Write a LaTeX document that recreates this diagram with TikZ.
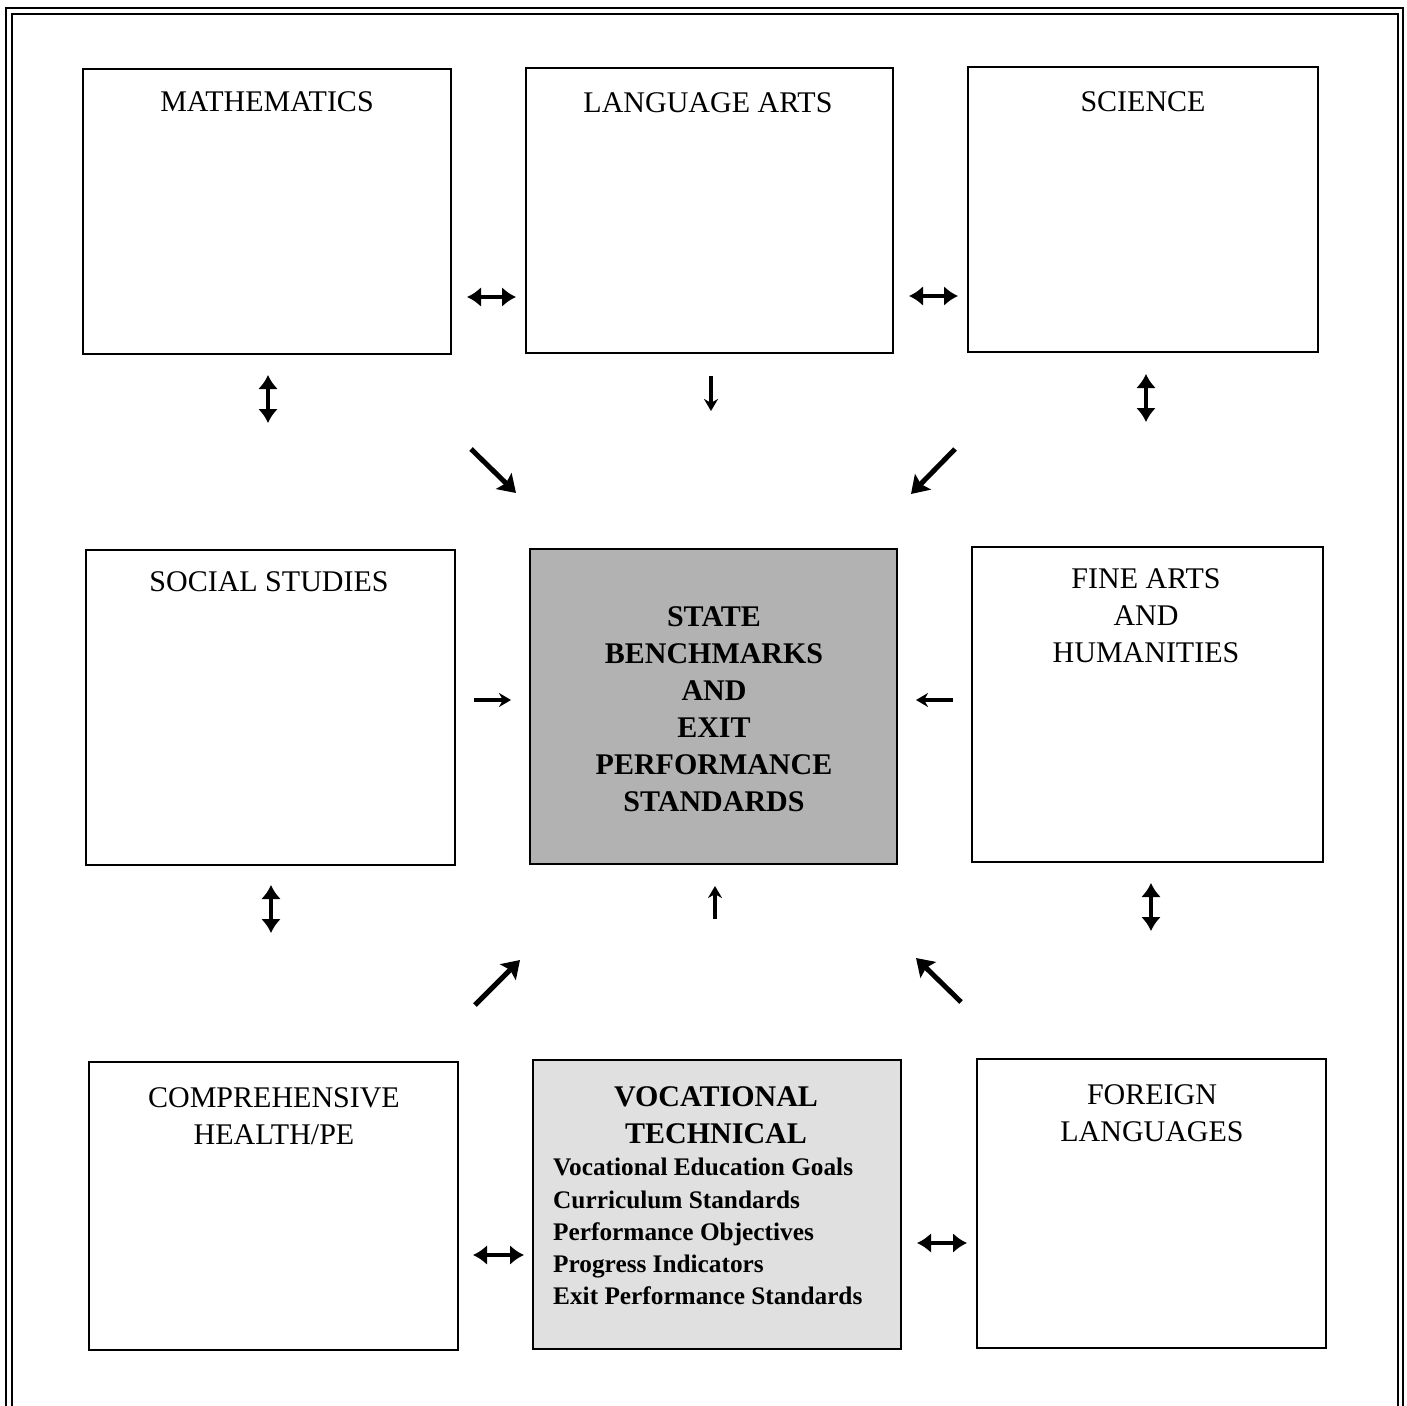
\documentclass[tikz,border=0pt]{standalone}
\usepackage{fontspec}
\setmainfont{Liberation Serif}
\usetikzlibrary{arrows.meta}
\begin{document}
\begin{tikzpicture}[x=1pt,y=-1pt,
  box/.style={draw, line width=2.6pt, rectangle, inner sep=0pt},
  ttl/.style={anchor=north, inner sep=0pt, align=center, font=\fontsize{30}{37}\selectfont},
  bttl/.style={anchor=north, inner sep=0pt, align=center, font=\fontsize{30}{37}\selectfont\bfseries},
  lst/.style={anchor=north west, inner sep=0pt, align=left, font=\fontsize{25.3}{32.3}\selectfont\bfseries},
  dbl/.style={line width=3.8pt, {Latex[length=14pt,width=20pt]}-{Latex[length=14pt,width=20pt]}},
  sgl/.style={line width=3.2pt, -{Stealth[length=12pt,width=14pt]}},
  dgl/.style={line width=5pt, -{Stealth[length=17pt,width=22pt,inset=3pt]}},
]
\useasboundingbox (0,0) rectangle (1407,1405);
% outer frame (open at bottom)
\draw[line width=2.4pt] (6,1410) -- (6,8) -- (1403,8) -- (1403,1410);
\draw[line width=2.4pt] (12,1410) -- (12,14) -- (1398,14) -- (1398,1410);
% boxes
\node[box, minimum width=368pt, minimum height=285pt] (math) at (267,211.5) {};
\node[box, minimum width=367pt, minimum height=285pt] (lang) at (709.5,210.5) {};
\node[box, minimum width=350pt, minimum height=285pt] (sci) at (1143,209.5) {};
\node[box, minimum width=369pt, minimum height=315pt] (soc) at (270.5,707.5) {};
\node[box, minimum width=367pt, minimum height=315pt, fill=black!30] (state) at (713.5,706.5) {};
\node[box, minimum width=351pt, minimum height=315pt] (fine) at (1147.5,704.5) {};
\node[box, minimum width=369pt, minimum height=288pt] (health) at (273.5,1206) {};
\node[box, minimum width=368pt, minimum height=289pt, fill=black!12] (voc) at (717,1204.5) {};
\node[box, minimum width=349pt, minimum height=289pt] (lang2) at (1151.5,1203.5) {};
% titles
\node[ttl] (tmath) at (267,91) {MATHEMATICS};
\node[ttl] (tlang) at (708,92) {LANGUAGE ARTS};
\node[ttl] (tsci) at (1143,91) {SCIENCE};
\node[ttl] (tsoc) at (269,571) {SOCIAL STUDIES};
\node[ttl] (tfine) at (1146,568) {FINE ARTS\\AND\\HUMANITIES};
\node[bttl] (tstate) at (714,606) {STATE\\BENCHMARKS\\AND\\EXIT\\PERFORMANCE\\STANDARDS};
\node[ttl] (thealth) at (274,1087) {COMPREHENSIVE\\HEALTH/PE};
\node[bttl] (tvoc) at (716,1086) {VOCATIONAL\\TECHNICAL};
\node[lst] (tlist) at (553,1158) {Vocational Education Goals\\Curriculum Standards\\Performance Objectives\\Progress Indicators\\Exit Performance Standards};
\node[ttl] (tfor) at (1152,1084) {FOREIGN\\LANGUAGES};
% arrow end coordinates
\coordinate (a1s) at (467,297); \coordinate (a1e) at (516,297);
\coordinate (a2s) at (909,296); \coordinate (a2e) at (958,296);
\coordinate (a3s) at (268,375); \coordinate (a3e) at (268,423);
\coordinate (a4s) at (1146,374); \coordinate (a4e) at (1146,422);
\coordinate (a5s) at (271,885); \coordinate (a5e) at (271,933);
\coordinate (a6s) at (1151,883); \coordinate (a6e) at (1151,931);
\coordinate (a7s) at (711,376); \coordinate (a7e) at (711,411);
\coordinate (a8s) at (471,449); \coordinate (a8e) at (516,493);
\coordinate (a9s) at (955,449); \coordinate (a9e) at (911,494);
\coordinate (a10s) at (474,700); \coordinate (a10e) at (511,700);
\coordinate (a11s) at (953,700); \coordinate (a11e) at (916,700);
\coordinate (a12s) at (715,919); \coordinate (a12e) at (715,886);
\coordinate (a13s) at (475,1005); \coordinate (a13e) at (520,960);
\coordinate (a14s) at (961,1002); \coordinate (a14e) at (916,958);
\coordinate (a15s) at (473,1255); \coordinate (a15e) at (524,1255);
\coordinate (a16s) at (917,1243); \coordinate (a16e) at (967,1243);
% arrows
\draw[dbl] (a1s) -- (a1e);
\draw[dbl] (a2s) -- (a2e);
\draw[dbl] (a3s) -- (a3e);
\draw[dbl] (a4s) -- (a4e);
\draw[dbl] (a5s) -- (a5e);
\draw[dbl] (a6s) -- (a6e);
\draw[sgl] (a7s) -- (a7e);
\draw[dgl] (a8s) -- (a8e);
\draw[dgl] (a9s) -- (a9e);
\draw[sgl] (a10s) -- (a10e);
\draw[sgl] (a11s) -- (a11e);
\draw[sgl] (a12s) -- (a12e);
\draw[dgl] (a13s) -- (a13e);
\draw[dgl] (a14s) -- (a14e);
\draw[dbl] (a15s) -- (a15e);
\draw[dbl] (a16s) -- (a16e);
\end{tikzpicture}
\end{document}
